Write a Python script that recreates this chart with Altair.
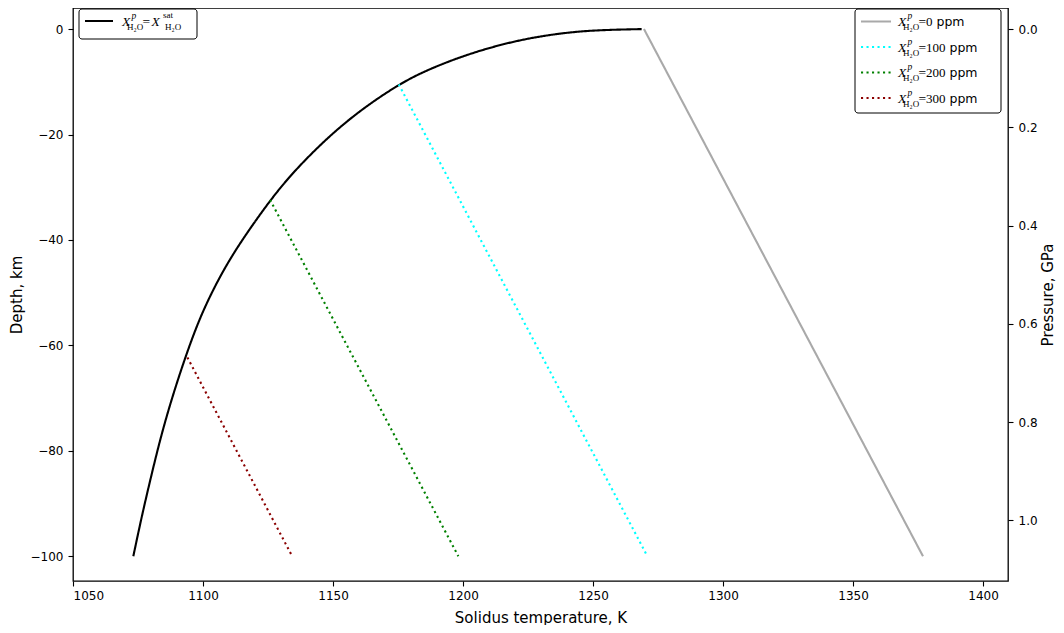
import altair as alt
import pandas as pd

# ---------------- data ----------------
SAT_T = [1073.2, 1076.4, 1080.3, 1084.1, 1088.6, 1093.7, 1098.9, 1105.0, 1112.3,
         1125.8, 1135.3, 1147.6, 1160.4, 1175.5, 1186.0, 1198.8, 1211.7, 1224.5,
         1237.3, 1250.1, 1268.7]
SAT_D = [-100, -92.5, -84.3, -76.7, -69.1, -61.5, -54.6, -48.3, -41.9,
         -32.4, -26.8, -20.7, -15.4, -10.4, -7.8, -5.3, -3.3, -1.8,
         -0.8, -0.2, 0]

PPM0_T = [1269.6, 1376.9]
PPM0_D = [0, -100]
PPM100_T = [1175.3, 1270.9]
PPM100_D = [-10.5, -100]
PPM200_T = [1125.8, 1198.2]
PPM200_D = [-32.4, -100]
PPM300_T = [1094.0, 1134.3]
PPM300_D = [-62.3, -100]

SERIES = ["sat", "0 ppm", "100 ppm", "200 ppm", "300 ppm"]
PPM_LABELS = ["0", "100", "200", "300"]

X_TICKS = [1050, 1100, 1150, 1200, 1250, 1300, 1350, 1400]
Y_TICKS = [-100, -80, -60, -40, -20, 0]
P_TICKS = [0.0, 0.2, 0.4, 0.6, 0.8, 1.0]
GPA_PER_KM = 0.01073

# ---------------- layout / style ----------------
W, H = 935, 573
OX, OY = 73, 8          # absolute page position of the plot origin
X_DOM = [1050, 1409.6]
Y_DOM = [-104.7, 4.0]
P_DOM = [-Y_DOM[1] * GPA_PER_KM, -Y_DOM[0] * GPA_PER_KM]

SANS = "DejaVu Sans"
SERIF = "Liberation Serif"
COLORS = ["black", "darkgray", "cyan", "green", "darkred"]
SOLID = [1, 0]
DOT = [2.1, 3.4]
DASHES = [SOLID, SOLID, DOT, DOT, DOT]

# ---------------- build line table ----------------
frames = []
for name, ts, ds in zip(SERIES,
                        [SAT_T, PPM0_T, PPM100_T, PPM200_T, PPM300_T],
                        [SAT_D, PPM0_D, PPM100_D, PPM200_D, PPM300_D]):
    frames.append(pd.DataFrame({"series": name, "T": ts, "depth": ds,
                                "order": list(range(len(ts)))}))
lines_df = pd.concat(frames, ignore_index=True)

lines = alt.Chart(lines_df).mark_line(strokeWidth=2.1, interpolate="basis").encode(
    x=alt.X("T:Q", scale=alt.Scale(domain=X_DOM, nice=False, zero=False),
            axis=alt.Axis(values=X_TICKS, format="d", title="Solidus temperature, K",
                          titleY=41, titleBaseline="alphabetic", labelPadding=4)),
    y=alt.Y("depth:Q", scale=alt.Scale(domain=Y_DOM, nice=False, zero=False),
            axis=alt.Axis(values=Y_TICKS, format="d", title="Depth, km",
                          titleX=-57, titleY=H / 2, titleAngle=270,
                          titleBaseline="middle", titleAlign="center",
                          labelPadding=5)),
    color=alt.Color("series:N", scale=alt.Scale(domain=SERIES, range=COLORS), legend=None),
    strokeDash=alt.StrokeDash("series:N", scale=alt.Scale(domain=SERIES, range=DASHES),
                              legend=None),
    order="order:Q",
)

pressure = alt.Chart(pd.DataFrame({"p": P_TICKS})).mark_point(opacity=0).encode(
    y=alt.Y("p:Q", scale=alt.Scale(domain=P_DOM, reverse=True, nice=False, zero=False),
            axis=alt.Axis(orient="right", values=P_TICKS, format=".1f",
                          title="Pressure, GPa", titleX=39.5, titleY=H / 2,
                          titleAngle=270, titleBaseline="middle",
                          titleAlign="center", labelPadding=5))
)

one = pd.DataFrame({"k": [0]})


def txt(x, y, s, font=SERIF, size=14, style="normal"):
    return alt.Chart(one).mark_text(
        text=s, align="left", baseline="alphabetic", font=font,
        fontSize=size, fontStyle=style, color="black"
    ).encode(x=alt.value(x - OX), y=alt.value(y - OY))


def box(x1, y1, x2, y2):
    return alt.Chart(one).mark_rect(
        fill="white", stroke="black", strokeWidth=1, cornerRadius=3
    ).encode(x=alt.value(x1 - OX), x2=alt.value(x2 - OX),
             y=alt.value(y1 - OY), y2=alt.value(y2 - OY))


def sample(x1, x2, y, color, dash):
    return alt.Chart(one).mark_rule(color=color, strokeWidth=2.1, strokeDash=dash).encode(
        x=alt.value(x1 - OX), x2=alt.value(x2 - OX), y=alt.value(y - OY))


def xp_h2o(x, yc):
    return [
        txt(x, yc + 4.5, "X", size=13.5, style="italic"),
        txt(x + 9.5, yc - 2.5, "p", size=9.5, style="italic"),
        txt(x + 5, yc + 8.5, "H₂O", size=9),
    ]


legend = []
# left legend (saturation curve)
yc = 21
legend.append(box(79, 9, 197, 39))
legend.append(sample(85, 113, yc, "black", SOLID))
legend += xp_h2o(122, yc)
legend.append(txt(142.5, yc + 4.5, "=", size=13.5))
legend.append(txt(151.5, yc + 4.5, "X", size=13.5, style="italic"))
legend.append(txt(163, yc - 3, "sat", size=9))
legend.append(txt(165, yc + 8.5, "H₂O", size=9))

# right legend (water contents)
legend.append(box(855, 9, 1001, 113))
row_y = [21.5, 47, 72.5, 98]
for color, dash, yc, lab in zip(COLORS[1:], DASHES[1:], row_y, PPM_LABELS):
    legend.append(sample(861, 891, yc, color, dash))
    legend += xp_h2o(898, yc)
    legend.append(txt(918.5, yc + 4.5, "=", size=13.5))
    legend.append(txt(926, yc + 4.5, lab, size=13))
    legend.append(txt(926 + 6.5 * len(lab) + 4, yc + 4.5, "ppm", font=SANS, size=12.5))

chart = alt.layer(lines, pressure, *legend).resolve_scale(y="independent").properties(
    width=W, height=H,
    padding={"left": 65, "top": 0, "right": 48, "bottom": 44},
    autosize=alt.AutoSizeParams(type="none"),
).configure_axis(
    labelFont=SANS, titleFont=SANS, labelFontSize=12, titleFontSize=15,
    titleFontWeight="normal", labelColor="black", titleColor="black",
    tickColor="black", tickSize=5, tickWidth=1.1, domain=False, grid=False,
).configure_view(stroke="black", strokeWidth=1.3)

chart.save("out.html", embed_options={"renderer": "svg", "actions": False})
